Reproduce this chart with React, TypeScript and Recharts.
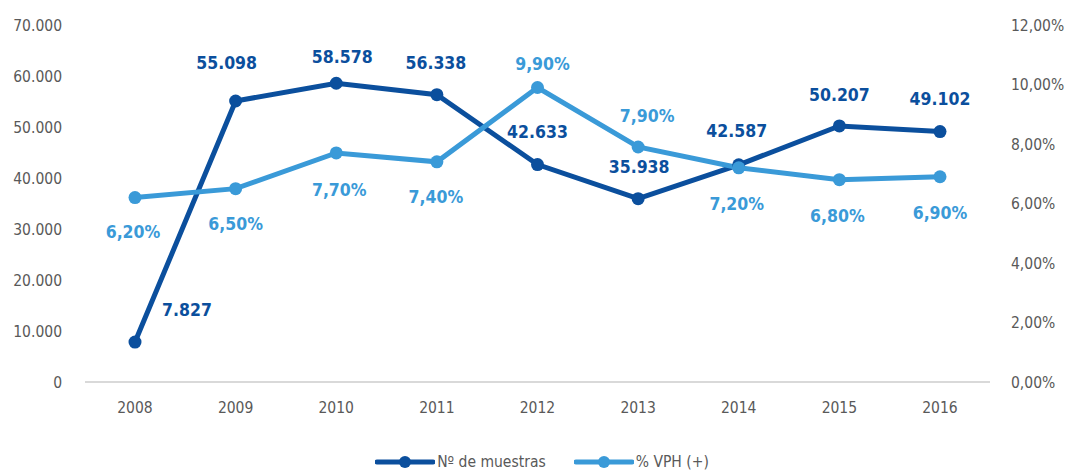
import React from 'react';
import { LineChart, Line, XAxis, YAxis, Legend } from 'recharts';

// --- Data ---
const years = ['2008', '2009', '2010', '2011', '2012', '2013', '2014', '2015', '2016'];
const muestras = [7827, 55098, 58578, 56338, 42633, 35938, 42587, 50207, 49102];
const vph = [6.2, 6.5, 7.7, 7.4, 9.9, 7.9, 7.2, 6.8, 6.9];

const leftTicks = [0, 10000, 20000, 30000, 40000, 50000, 60000, 70000];
const rightTicks = [0, 2, 4, 6, 8, 10, 12];

// label nudges (dx, dy) relative to each point
const muestrasLabelPos = [[52, -32], [-9, -38], [6, -26], [-1, -32], [0, -33], [1, -32], [-2, -34], [0, -31], [0, -33]];
const vphLabelPos = [[-2, 34], [0, 35], [3, 37], [-1, 35], [5, -23], [9, -31], [-2, 36], [-2, 36], [0, 36]];

// --- Constants ---
const DARK = '#0b4f9d';
const LIGHT = '#3a9ad8';
const GREY = '#595959';
const FONT = '"DejaVu Sans", sans-serif';

const data = years.map((year, i) => ({ year, muestras: muestras[i], vph: vph[i] }));

const thousands = (v: number) => String(Math.round(v)).replace(/\B(?=(\d{3})+(?!\d))/g, '.');
const percent = (v: number) => v.toFixed(2).replace('.', ',') + '%';

const makeLabel = (color: string, pos: number[][], fmt: (v: number) => string) => (props: any) => {
  const { x, y, index, value } = props;
  const [dx, dy] = pos[index] || [0, -30];
  return (
    <text
      key={index}
      x={x + dx}
      y={y + dy}
      textAnchor="middle"
      dominantBaseline="central"
      fill={color}
      fontWeight="bold"
      fontSize={17.5}
    >
      {fmt(Number(value))}
    </text>
  );
};

const legendItems = [
  { name: 'Nº de muestras', color: DARK },
  { name: '% VPH (+)', color: LIGHT },
];

const CustomLegend = () => (
  <div style={{ display: 'flex', justifyContent: 'center', height: 24, alignItems: 'center', paddingLeft: 18 }}>
    {legendItems.map((it, i) => (
      <div key={it.name} style={{ display: 'flex', alignItems: 'center', marginLeft: i ? 28 : 0 }}>
        <svg width={60} height={16}>
          <line x1={2} y1={8} x2={58} y2={8} stroke={it.color} strokeWidth={5} strokeLinecap="round" />
          <circle cx={30} cy={8} r={6} fill={it.color} />
        </svg>
        <span style={{ fontSize: 15.5, color: GREY, marginLeft: 2 }}>{it.name}</span>
      </div>
    ))}
  </div>
);

const tickStyle = { fontSize: 15.5, fill: GREY };

export default function App() {
  return (
    <div
      style={{
        position: 'absolute',
        left: 0,
        top: 0,
        width: 1066,
        height: 473,
        background: '#fff',
        fontFamily: FONT,
        fontStretch: 'condensed',
      }}
    >
      <LineChart width={1066} height={473} data={data} margin={{ top: 25, right: 0, left: 0, bottom: 37 }}>
        <XAxis
          dataKey="year"
          axisLine={{ stroke: '#d9d9d9', strokeWidth: 2 }}
          tickLine={false}
          tickSize={0}
          tickMargin={20}
          height={30}
          padding={{ left: 50, right: 50 }}
          tick={tickStyle}
        />
        <YAxis
          yAxisId="left"
          domain={[0, 70000]}
          ticks={leftTicks}
          tickFormatter={thousands}
          axisLine={false}
          tickLine={false}
          tickSize={0}
          tickMargin={23}
          width={85}
          tick={tickStyle}
        />
        <YAxis
          yAxisId="right"
          orientation="right"
          domain={[0, 12]}
          ticks={rightTicks}
          tickFormatter={percent}
          axisLine={false}
          tickLine={false}
          tickSize={0}
          tickMargin={21}
          width={76}
          tick={tickStyle}
        />
        <Legend content={<CustomLegend />} wrapperStyle={{ top: 450, bottom: 'auto', left: 0, width: 1066 }} />
        <Line
          yAxisId="left"
          dataKey="muestras"
          name="Nº de muestras"
          stroke={DARK}
          strokeWidth={5}
          dot={{ r: 6.5, fill: DARK, stroke: DARK, strokeWidth: 0 }}
          activeDot={false}
          label={makeLabel(DARK, muestrasLabelPos, thousands)}
          isAnimationActive={false}
        />
        <Line
          yAxisId="right"
          dataKey="vph"
          name="% VPH (+)"
          stroke={LIGHT}
          strokeWidth={5}
          dot={{ r: 6.5, fill: LIGHT, stroke: LIGHT, strokeWidth: 0 }}
          activeDot={false}
          label={makeLabel(LIGHT, vphLabelPos, percent)}
          isAnimationActive={false}
        />
      </LineChart>
    </div>
  );
}
